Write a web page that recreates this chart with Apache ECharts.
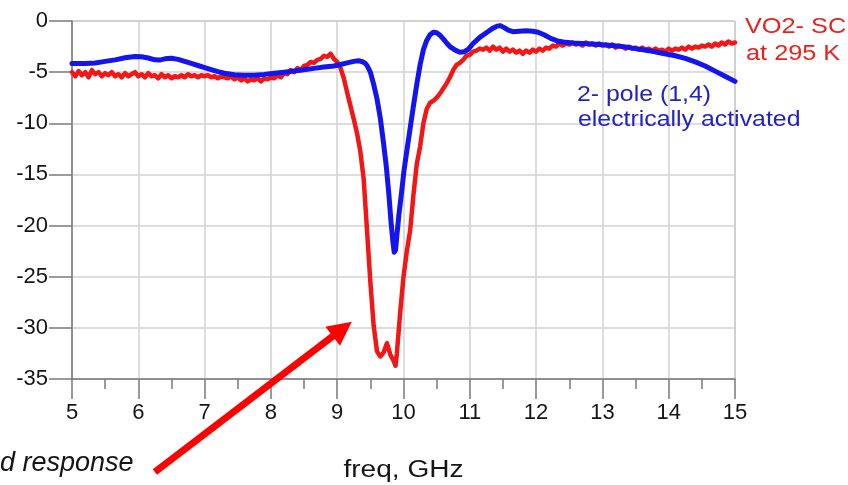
<!DOCTYPE html>
<html>
<head>
<meta charset="utf-8">
<script src="https://cdn.jsdelivr.net/npm/echarts@6/dist/echarts.min.js"></script>
<style>
  html, body { margin: 0; padding: 0; background: #fff; }
  #chart { width: 848px; height: 485px; }
</style>
</head>
<body>
<div id="chart"></div>
<script>
// Transmission |S21| (dB) versus frequency (GHz)
const xTicks = [5, 6, 7, 8, 9, 10, 11, 12, 13, 14, 15];
const yTicks = [0, -5, -10, -15, -20, -25, -30, -35];

// VO2 switch at 295 K (measured, noisy trace)
const redTrace = [
  [5.00,-5.0],[5.05,-5.4],[5.10,-4.9],[5.15,-5.3],[5.20,-5.0],[5.25,-5.5],[5.30,-4.8],[5.35,-5.2],
  [5.40,-5.0],[5.45,-5.4],[5.50,-5.1],[5.55,-5.3],[5.60,-5.0],[5.65,-5.4],[5.70,-5.2],[5.75,-5.5],
  [5.80,-5.1],[5.85,-5.4],[5.90,-5.2],[5.95,-5.0],[6.00,-5.4],[6.05,-5.2],[6.10,-5.5],[6.15,-5.1],
  [6.20,-5.4],[6.25,-5.3],[6.30,-5.6],[6.35,-5.2],[6.40,-5.5],[6.45,-5.3],[6.50,-5.6],[6.55,-5.4],
  [6.60,-5.5],[6.65,-5.3],[6.70,-5.5],[6.75,-5.2],[6.80,-5.4],[6.85,-5.3],[6.90,-5.5],[6.95,-5.3],
  [7.00,-5.4],[7.05,-5.3],[7.10,-5.5],[7.15,-5.4],[7.20,-5.6],[7.25,-5.4],[7.30,-5.5],[7.35,-5.6],
  [7.40,-5.4],[7.45,-5.7],[7.50,-5.5],[7.55,-5.8],[7.60,-5.6],[7.65,-5.9],[7.70,-5.7],[7.75,-5.8],
  [7.80,-5.6],[7.85,-5.9],[7.90,-5.6],[7.95,-5.7],[8.00,-5.5],[8.05,-5.6],[8.10,-5.3],[8.15,-5.5],
  [8.20,-5.1],[8.25,-5.2],[8.30,-4.8],[8.35,-5.0],[8.40,-4.6],[8.45,-4.8],[8.50,-4.4],[8.55,-4.3],
  [8.60,-4.0],[8.65,-4.1],[8.70,-3.8],[8.75,-3.7],[8.80,-3.4],[8.85,-3.5],[8.90,-3.2],[8.95,-3.7],
  [9.00,-4.0],[9.05,-4.6],[9.10,-5.6],[9.15,-7.0],[9.20,-8.3],[9.25,-9.6],[9.30,-11.0],[9.35,-12.8],
  [9.40,-15.5],[9.45,-20.5],[9.50,-25.5],[9.55,-29.8],[9.60,-32.3],[9.65,-32.8],[9.70,-32.4],[9.75,-31.5],
  [9.80,-32.6],[9.85,-33.2],[9.88,-33.7],[9.90,-32.5],[9.95,-28.5],[10.00,-25.0],[10.05,-22.5],[10.10,-20.5],
  [10.15,-17.0],[10.20,-14.0],[10.25,-12.3],[10.30,-10.0],[10.35,-8.6],[10.40,-8.0],[10.45,-7.8],[10.50,-7.5],
  [10.55,-7.1],[10.60,-6.6],[10.65,-6.1],[10.70,-5.5],[10.75,-4.8],[10.80,-4.3],[10.85,-4.1],[10.90,-3.8],
  [10.95,-3.4],[11.00,-3.3],[11.05,-3.0],[11.10,-2.9],[11.15,-2.7],[11.20,-2.8],[11.25,-2.6],[11.30,-2.9],
  [11.35,-2.5],[11.40,-2.8],[11.45,-2.6],[11.50,-3.0],[11.55,-2.7],[11.60,-3.0],[11.65,-2.8],[11.70,-3.1],
  [11.75,-2.9],[11.80,-3.2],[11.85,-2.9],[11.90,-3.1],[11.95,-2.8],[12.00,-3.0],[12.05,-2.7],[12.10,-2.9],
  [12.15,-2.6],[12.20,-2.7],[12.25,-2.4],[12.30,-2.5],[12.35,-2.2],[12.40,-2.4],[12.45,-2.2],[12.50,-2.3],
  [12.55,-2.1],[12.60,-2.3],[12.65,-2.2],[12.70,-2.4],[12.75,-2.1],[12.80,-2.3],[12.85,-2.2],[12.90,-2.4],
  [12.95,-2.2],[13.00,-2.4],[13.05,-2.3],[13.10,-2.5],[13.15,-2.3],[13.20,-2.6],[13.25,-2.4],[13.30,-2.5],
  [13.35,-2.7],[13.40,-2.5],[13.45,-2.7],[13.50,-2.6],[13.55,-2.8],[13.60,-2.6],[13.65,-2.8],[13.70,-2.7],
  [13.75,-2.9],[13.80,-2.7],[13.85,-2.9],[13.90,-2.8],[13.95,-3.0],[14.00,-2.7],[14.05,-2.9],[14.10,-2.7],
  [14.15,-2.8],[14.20,-2.6],[14.25,-2.8],[14.30,-2.5],[14.35,-2.7],[14.40,-2.5],[14.45,-2.6],[14.50,-2.4],
  [14.55,-2.5],[14.60,-2.3],[14.65,-2.5],[14.70,-2.2],[14.75,-2.4],[14.80,-2.1],[14.85,-2.3],[14.90,-2.0],
  [14.95,-2.2],[15.00,-2.1]
];

// 2-pole (1,4) filter, electrically activated
const blueTrace = [
  [5.00,-4.15],[5.20,-4.15],[5.35,-4.1],[5.50,-3.95],[5.65,-3.8],[5.80,-3.6],[5.95,-3.47],[6.05,-3.5],
  [6.15,-3.62],[6.25,-3.8],[6.32,-3.82],[6.40,-3.7],[6.50,-3.65],[6.60,-3.75],[6.70,-3.95],[6.80,-4.15],
  [6.90,-4.35],[7.00,-4.55],[7.10,-4.75],[7.20,-4.95],[7.30,-5.1],[7.45,-5.25],[7.60,-5.3],[7.75,-5.3],
  [7.90,-5.22],[8.05,-5.1],[8.20,-5.0],[8.35,-4.88],[8.50,-4.77],[8.65,-4.63],[8.80,-4.5],[8.95,-4.4],
  [9.05,-4.25],[9.15,-4.1],[9.25,-3.95],[9.32,-3.88],[9.38,-3.98],[9.42,-4.12],[9.45,-4.35],[9.50,-5.0],
  [9.55,-6.2],[9.60,-7.6],[9.65,-9.5],[9.70,-12.0],[9.74,-14.2],[9.78,-17.0],[9.81,-19.5],[9.84,-21.6],
  [9.86,-22.6],[9.88,-22.4],[9.90,-21.0],[9.93,-19.0],[9.97,-16.8],[10.01,-14.5],[10.05,-12.7],[10.10,-10.5],
  [10.15,-8.3],[10.20,-6.2],[10.25,-4.3],[10.30,-2.8],[10.35,-1.9],[10.40,-1.35],[10.45,-1.1],[10.50,-1.15],
  [10.55,-1.4],[10.60,-1.75],[10.65,-2.15],[10.70,-2.5],[10.78,-2.85],[10.85,-3.05],[10.92,-3.0],[10.98,-2.75],
  [11.05,-2.2],[11.15,-1.6],[11.26,-1.1],[11.35,-0.7],[11.41,-0.5],[11.46,-0.45],[11.52,-0.65],[11.58,-0.9],
  [11.65,-1.05],[11.75,-1.0],[11.85,-0.95],[11.95,-1.0],[12.03,-1.1],[12.12,-1.35],[12.22,-1.7],[12.32,-1.95],
  [12.41,-2.05],[12.55,-2.15],[12.70,-2.2],[12.90,-2.28],[13.10,-2.38],[13.30,-2.5],[13.50,-2.7],[13.70,-2.9],
  [13.90,-3.15],[14.10,-3.4],[14.25,-3.65],[14.40,-4.0],[14.55,-4.4],[14.70,-4.9],[14.85,-5.4],[15.00,-5.9]
];

// Pointer arrow annotation, in axis units
const arrowFrom = [6.25, -44.1];
const arrowTo = [9.22, -29.4];

const FONT = '"Liberation Sans", Arial, sans-serif';
const RED = '#f21616';
const BLUE = '#1414ee';

const chart = echarts.init(document.getElementById('chart'), null, { renderer: 'canvas' });

const option = {
  animation: false,
  backgroundColor: '#ffffff',
  grid: {
    left: 72, right: 113, top: 21, bottom: 106,
    containLabel: false,
    show: true, borderColor: '#9a9a9a', borderWidth: 1
  },
  xAxis: {
    type: 'value', min: xTicks[0], max: xTicks[xTicks.length - 1], interval: 1,
    axisLine: { show: true, onZero: false, lineStyle: { color: '#7a7a7a', width: 1.5 } },
    axisTick: { show: true, inside: false, length: 20, lineStyle: { color: '#7a7a7a', width: 1.5 } },
    minorTick: { show: true, splitNumber: 2, length: 10, lineStyle: { color: '#7a7a7a', width: 1.5 } },
    splitLine: { show: true, lineStyle: { color: '#d2d2d2', width: 1.5 } },
    axisLabel: { fontSize: 22, margin: 23, color: '#151515', fontFamily: FONT }
  },
  yAxis: {
    type: 'value', min: yTicks[yTicks.length - 1], max: yTicks[0], interval: 5,
    axisLine: { show: true, onZero: false, lineStyle: { color: '#7a7a7a', width: 1.5 } },
    axisTick: { show: true, inside: false, length: 23, lineStyle: { color: '#7a7a7a', width: 1.5 } },
    splitLine: { show: true, lineStyle: { color: '#d2d2d2', width: 1.5 } },
    axisLabel: { fontSize: 22, margin: 24, color: '#151515', fontFamily: FONT }
  },
  series: [
    {
      name: 'VO2- SC at 295 K', type: 'line', data: redTrace,
      showSymbol: false, smooth: false, clip: true,
      lineStyle: { color: RED, width: 4.5, join: 'round', cap: 'round' }, z: 2
    },
    {
      name: '2- pole (1,4) electrically activated', type: 'line', data: blueTrace,
      showSymbol: false, smooth: false, clip: true,
      lineStyle: { color: BLUE, width: 5, join: 'round', cap: 'round' }, z: 3
    }
  ]
};
chart.setOption(option);

// Annotations: texts plus a red arrow whose ends come from the axis scales
const p0 = chart.convertToPixel({ gridIndex: 0 }, arrowFrom);
const p1 = chart.convertToPixel({ gridIndex: 0 }, arrowTo);
const dx = p1[0] - p0[0], dy = p1[1] - p0[1];
const len = Math.sqrt(dx * dx + dy * dy);
const ux = dx / len, uy = dy / len;
const headLen = 24, headHalf = 12;
const base = [p1[0] - ux * headLen, p1[1] - uy * headLen];

function label(text, x, y, color, size, sx) {
  return {
    type: 'text', x: x, y: y, scaleX: sx, z: 10,
    style: {
      text: text, fill: color, fontSize: size, fontFamily: FONT,
      textAlign: 'left', textVerticalAlign: 'bottom'
    }
  };
}

chart.setOption({
  graphic: [
    label('VO2- SC', 745, 38, '#e8231d', 22, 1.15),
    label('at 295 K', 746, 65, '#e8231d', 22, 1.15),
    label('2- pole (1,4)', 577, 106, '#2222c4', 22, 1.13),
    label('electrically activated', 578, 131, '#2222c4', 22, 1.13),
    {
      type: 'text', x: 403.5, y: 482, scaleX: 1.22, z: 10,
      style: { text: 'freq, GHz', fill: '#151515', fontSize: 23, fontFamily: FONT,
               textAlign: 'center', textVerticalAlign: 'bottom' }
    },
    {
      type: 'text', x: 0, y: 477, z: 10,
      style: { text: 'd response', fill: '#151515', fontSize: 27, fontStyle: 'italic',
               fontFamily: FONT, textAlign: 'left', textVerticalAlign: 'bottom' }
    },
    {
      type: 'line', z: 11,
      shape: { x1: p0[0], y1: p0[1], x2: base[0] + ux * 2, y2: base[1] + uy * 2 },
      style: { stroke: '#ff0000', lineWidth: 7, lineCap: 'butt' }
    },
    {
      type: 'polygon', z: 11,
      shape: { points: [
        [p1[0], p1[1]],
        [base[0] - uy * headHalf, base[1] + ux * headHalf],
        [base[0] + uy * headHalf, base[1] - ux * headHalf]
      ] },
      style: { fill: '#ff0000' }
    }
  ]
});
</script>
</body>
</html>
